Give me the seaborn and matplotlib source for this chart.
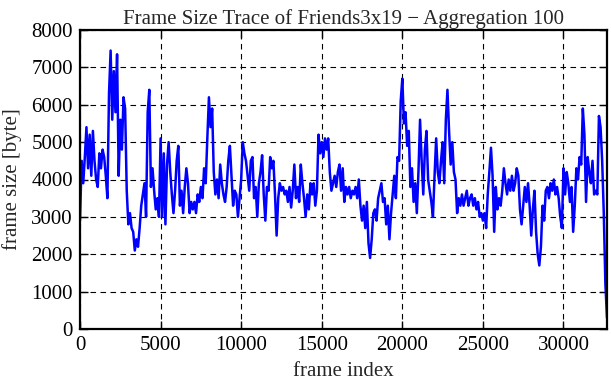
import numpy as np
import pandas as pd
import matplotlib
matplotlib.use("Agg")
import matplotlib.pyplot as plt
import seaborn as sns

# aggregated frame sizes (one value per 100 frames)
frame_size = [
    2900, 4500, 3900, 4600, 5400, 4300, 5200, 4100, 5300, 4500,
    4000, 3800, 4700, 4300, 4800, 4600, 4100, 3500, 6300, 7450,
    5600, 6900, 5800, 7350, 4100, 5600, 4800, 6200, 5900, 3700,
    2800, 3100, 2700, 2600, 2100, 2400, 2200, 2700, 3300, 3600,
    3900, 3000, 5800, 6400, 3800, 4300, 3700, 3200, 3500, 3000,
    5100, 3000, 4700, 2800, 4400, 5000, 4200, 3600, 3100, 3700,
    4500, 4900, 3300, 3700, 3100, 3800, 4300, 3900, 3100, 3400,
    3200, 3400, 3100, 3600, 3400, 3800, 3500, 4300, 3900, 5100,
    6200, 5400, 5900, 4200, 3600, 4000, 3500, 4400, 3900, 3600,
    3400, 3800, 4500, 4900, 4100, 3300, 3700, 3600, 3000, 3500,
    4000, 5000, 4700, 4500, 4100, 3700, 4500, 4600, 3500, 3800,
    3000, 3900, 4200, 4650, 3600, 2900, 3800, 3700, 4600, 4300,
    4500, 3600, 2500, 3500, 3900, 3700, 3800, 3600, 3700, 3400,
    3800, 3250, 3700, 4400, 3500, 3800, 3400, 4400, 3900, 3500,
    3000, 3600, 3200, 3900, 3600, 3900, 3300, 3700, 5200, 4700,
    5000, 4600, 5100, 4800, 5100, 4200, 3700, 3900, 4100, 3800,
    4200, 4400, 3700, 4300, 3400, 3800, 3600, 3800, 3500, 3700,
    3600, 3800, 3500, 4000, 3300, 2900, 3300, 2700, 3400, 2300,
    1900, 2400, 3100, 3200, 2900, 3500, 3700, 3900, 3400, 3500,
    2800, 3300, 2400, 3100, 3600, 4100, 3500, 4600, 4500, 6100,
    6700, 5500, 5800, 4900, 5300, 3800, 4300, 3400, 3900, 3100,
    4200, 5600, 4500, 3600, 4800, 5300, 4000, 3700, 3400, 3000,
    4100, 5100, 4200, 3900, 4500, 5000, 3900, 5600, 6400, 5300,
    4400, 5000, 4200, 4000, 3100, 3500, 3300, 3600, 3300, 3500,
    3700, 3300, 3500, 3600, 3300, 3500, 3200, 3400, 3000, 3100,
    2900, 3100, 2700, 3600, 4200, 4850, 4100, 2600, 3800, 3200,
    3500, 3300, 3700, 4300, 3900, 3600, 4000, 3700, 4100, 3700,
    3900, 4300, 4100, 3200, 2800, 3300, 3800, 3400, 3900, 3300,
    2500, 3200, 3700, 2600, 2000, 1700, 2200, 3300, 2900, 3700,
    3800, 3500, 3900, 3700, 4000, 3600, 3800, 3500, 3000, 2700,
    4300, 3600, 4200, 3900, 3400, 3800, 2600, 3300, 4300, 4000,
    4600, 4400, 5900, 5200, 3400, 4600, 4200, 3900, 4500, 3600,
    3700, 3600, 5700, 5400, 4500, 3100, 1200, 300,
]
aggregation = 100
frame_index = np.arange(len(frame_size)) * aggregation

x_ticks = [0, 5000, 10000, 15000, 20000, 25000, 30000]
y_ticks = [0, 1000, 2000, 3000, 4000, 5000, 6000, 7000, 8000]

def main():
    df = pd.DataFrame({"frame index": frame_index, "frame size": frame_size})

    sns.set_style("ticks")
    plt.rcParams["font.family"] = ["Liberation Serif", "DejaVu Serif"]

    fig = plt.figure(figsize=(6.11, 3.80), dpi=100)
    ax = fig.add_axes([80 / 611, 51 / 380, 527 / 611, 299 / 380])

    sns.lineplot(data=df, x="frame index", y="frame size", color="#0000ff",
                 linewidth=1.8, ax=ax)

    ax.set_xlim(0, 32700)
    ax.set_ylim(0, 8000)
    ax.set_xticks(x_ticks)
    ax.set_yticks(y_ticks)
    ax.grid(True, color="black", linestyle=(0, (5, 4)), linewidth=0.8)
    ax.set_axisbelow(True)
    ax.tick_params(direction="in", length=6, width=1, top=True, right=True,
                   labelsize=15, colors="black", pad=5)
    for sp in ax.spines.values():
        sp.set_linewidth(1.6)
        sp.set_color("black")

    ax.set_xlabel("frame index", fontsize=15, labelpad=5)
    ax.set_ylabel("frame size [byte]", fontsize=15, labelpad=7)
    ax.set_title("Frame Size Trace of Friends3x19 \u2212 Aggregation 100",
                 fontsize=15, pad=4)

    fig.savefig("out.png", dpi=100)

if __name__ == "__main__":
    main()
